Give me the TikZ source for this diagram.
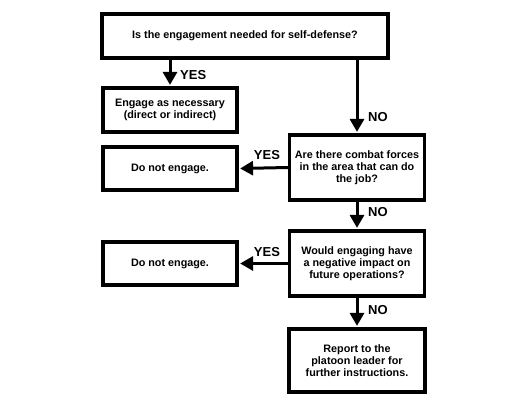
\documentclass[tikz,border=0pt]{standalone}
\usepackage{fontspec}
\setmainfont{Liberation Sans}
\usetikzlibrary{arrows.meta}
\begin{document}
\begin{tikzpicture}[x=1pt,y=-1pt,
  box/.style={draw=black,line width=3.2pt,fill=white,inner sep=0pt,
    font=\fontsize{10.8}{12}\selectfont\bfseries,align=center},
  conn/.style={line width=3pt,-{Triangle[width=14pt,length=13pt]},shorten >=1.5pt},
  lbl/.style={font=\fontsize{13}{15}\selectfont\bfseries,inner sep=0pt}]
\useasboundingbox (0,0) rectangle (528,408);
\node[box,minimum width=286pt,minimum height=44pt] (q1) at (245,36) {Is the engagement needed for self-defense?};
\node[box,minimum width=134pt,minimum height=44pt] (e1) at (170,110) {Engage as necessary\\(direct or indirect)};
\node[box,minimum width=135pt,minimum height=65pt] (q2) at (357,167.5) {Are there combat forces\\in the area that can do\\the job?};
\node[box,minimum width=134pt,minimum height=43pt] (d1) at (170,168.5) {Do not engage.};
\node[box,minimum width=135pt,minimum height=65pt] (q3) at (357,263.5) {Would engaging have\\a negative impact on\\future operations?};
\node[box,minimum width=134pt,minimum height=43pt] (d2) at (170,263.5) {Do not engage.};
\node[box,minimum width=136pt,minimum height=63pt] (r) at (357,360.5) {Report to the\\platoon leader for\\further instructions.};
\draw[conn] (q1.south -| 170,0) -- (e1.north -| 170,0);
\draw[conn] (q1.south -| q2.north) -- (q2.north);
\draw[conn] (q2.west) -- (d1.east);
\draw[conn] (q2.south) -- (q3.north);
\draw[conn] (q3.west) -- (d2.east);
\draw[conn] (q3.south) -- (r.north);
\node[lbl,anchor=west] (y1) at (180,75) {YES};
\node[lbl,anchor=west] (n1) at (368,117) {NO};
\node[lbl,anchor=center] (y2) at (267,155) {YES};
\node[lbl,anchor=west] (n2) at (368,212) {NO};
\node[lbl,anchor=center] (y3) at (267,252) {YES};
\node[lbl,anchor=west] (n3) at (368,310) {NO};
\end{tikzpicture}
\end{document}
